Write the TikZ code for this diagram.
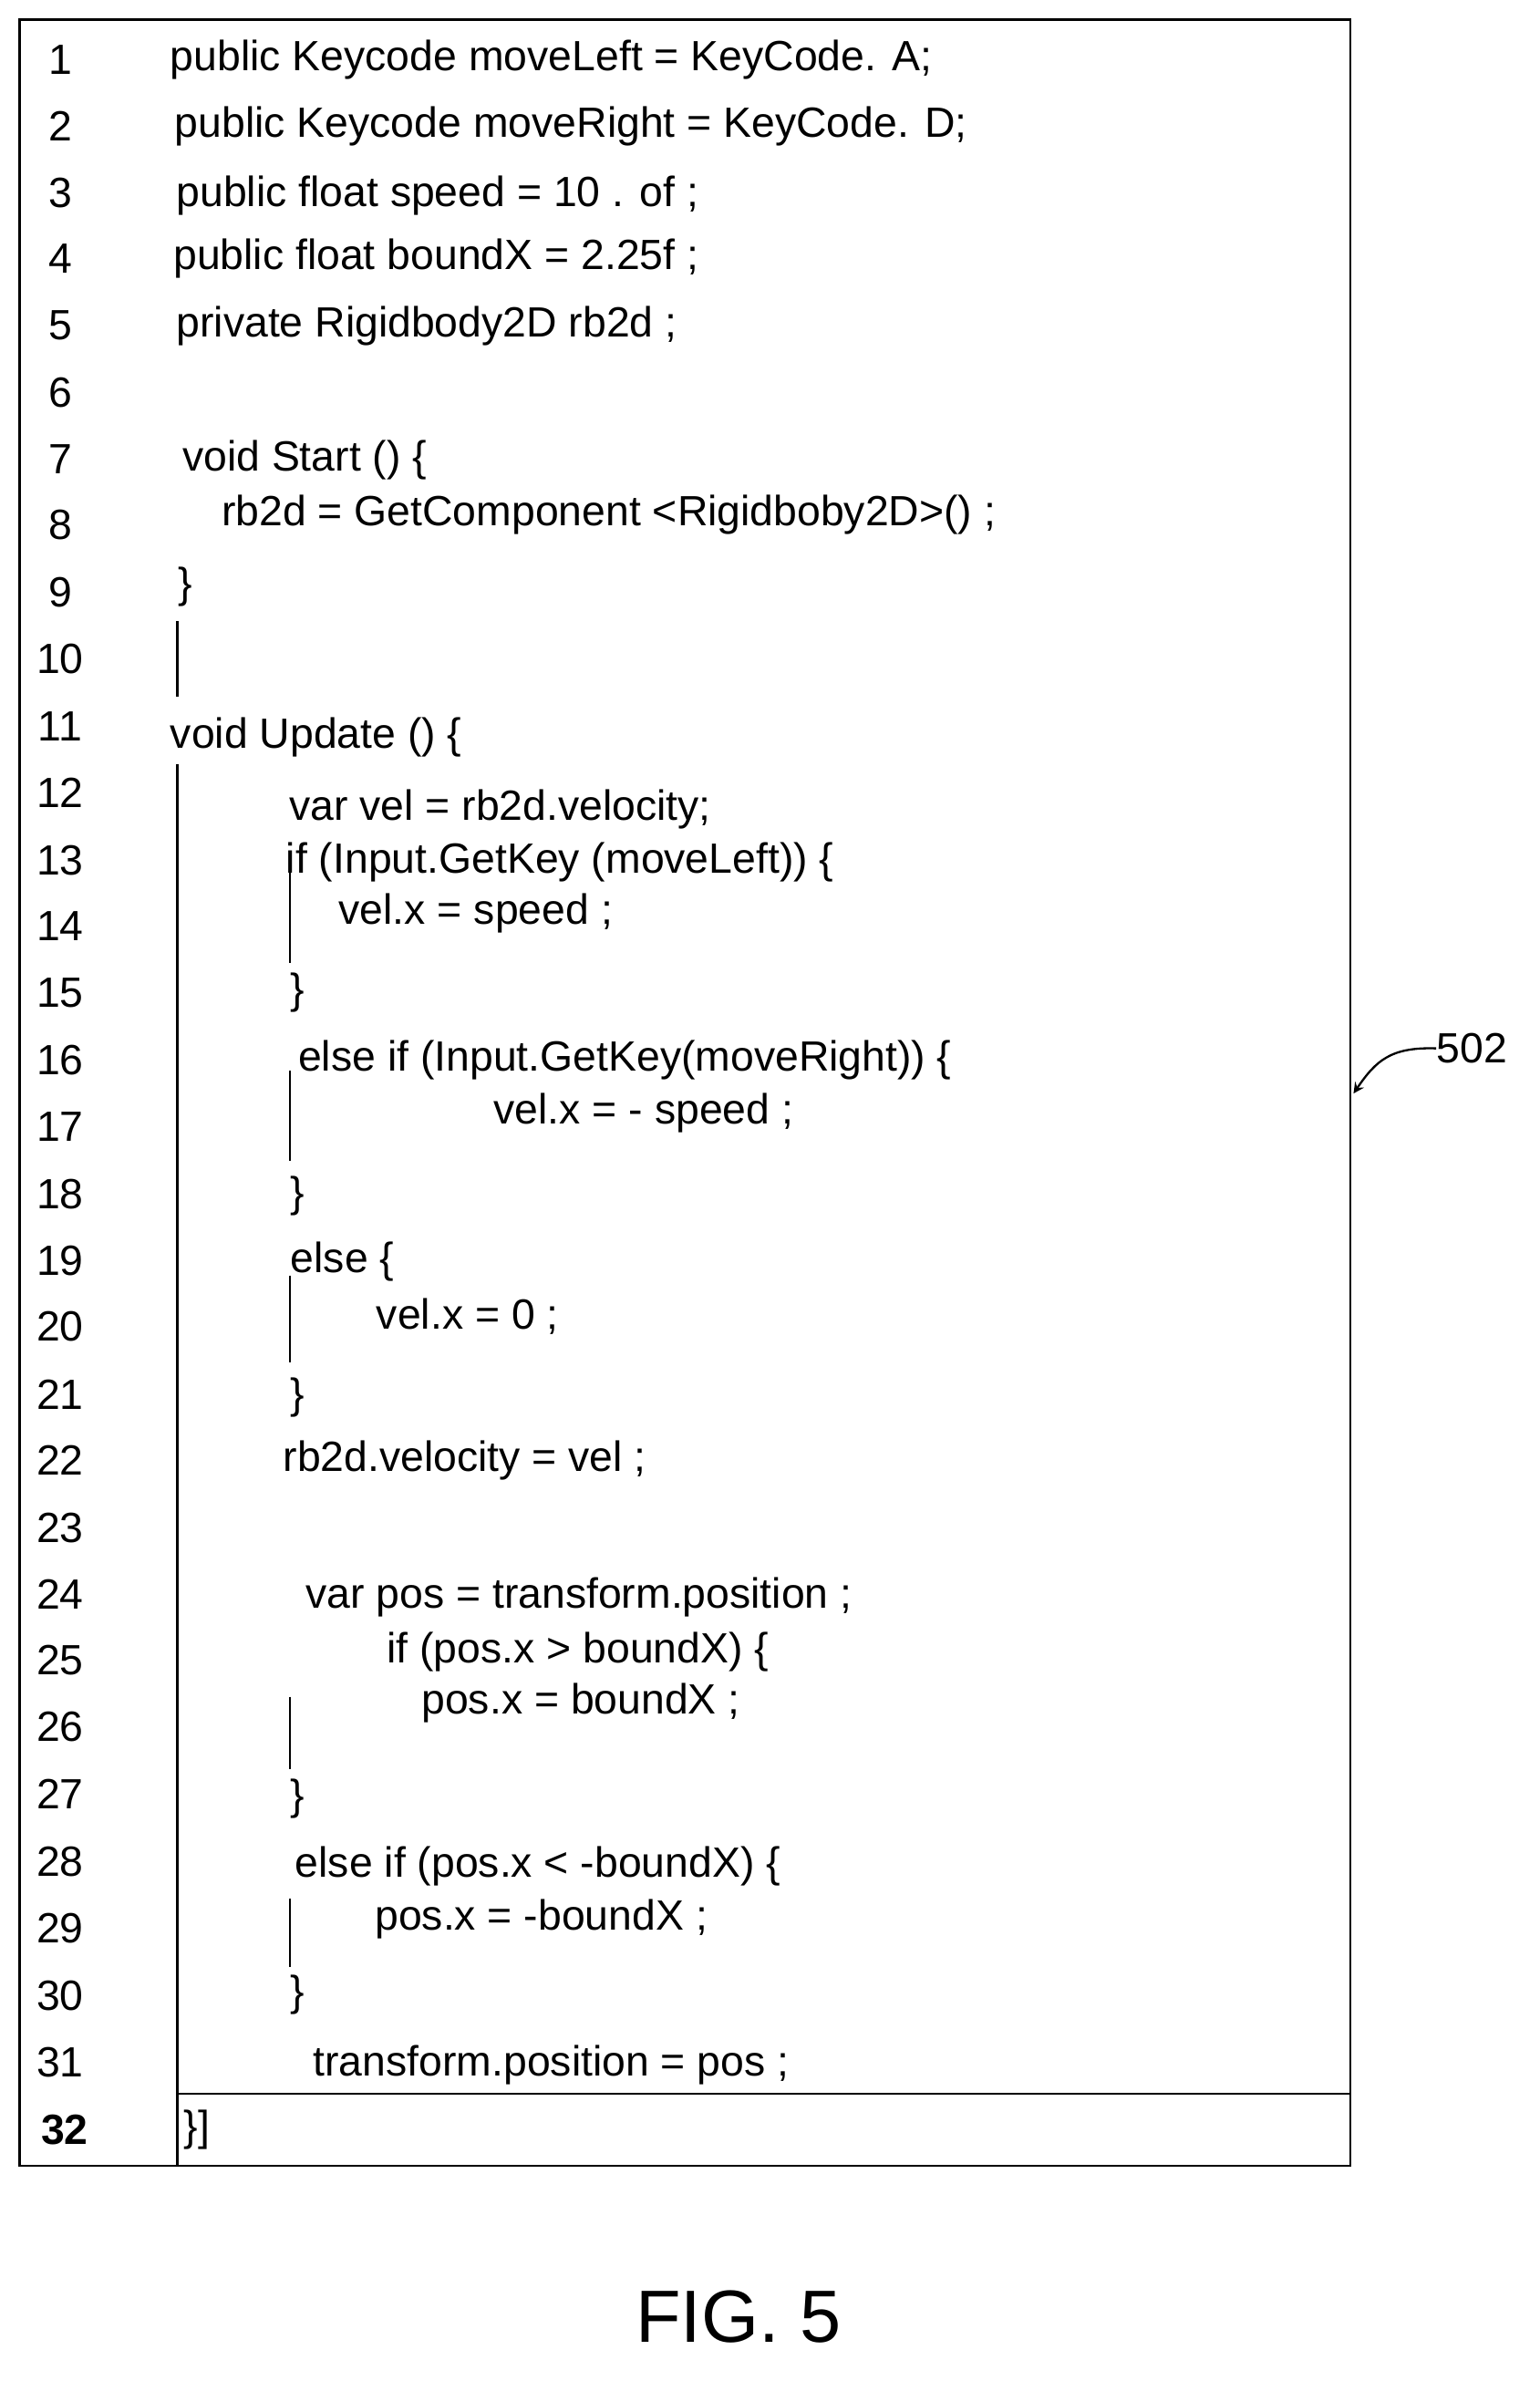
\documentclass[tikz,border=0pt]{standalone}
\usepackage{fontspec}
\setmainfont{Liberation Sans}
\begin{document}
\begin{tikzpicture}[x=0.02cm,y=-0.02cm,
  code/.style={anchor=west,inner sep=0pt,font=\fontsize{16}{18}\selectfont},
  num/.style={anchor=center,inner sep=0pt,font=\fontsize{16}{18}\selectfont},
  frame/.style={line width=0.9pt},
  bar/.style={line width=0.8pt}]
\useasboundingbox (0,0) rectangle (1024,1583);
\draw[frame] (13,13) rectangle (898,1440);
\draw[frame] (118,508) -- (118,1440);
\draw[frame] (118,1392) -- (898,1392);
\draw[bar] (118,413) -- (118,463);
\draw[bar] (193,580) -- (193,640);
\draw[bar] (193,712) -- (193,772);
\draw[bar] (193,848) -- (193,906);
\draw[bar] (193,1128) -- (193,1176);
\draw[bar] (193,1262) -- (193,1308);
\foreach \i/\y in {1/40,2/84,3/128,4/172,5/216,6/261,7/305,8/349,9/394,10/438,11/483,12/527,13/572,14/616,15/660,16/705,17/749,18/794,19/838,20/882,21/927,22/971,23/1016,24/1060,25/1104,26/1148,27/1193,28/1238,29/1282,30/1327,31/1371}
  \node[num] (n\i) at (40,\y) {\i};
\node[num,font=\fontsize{16}{18}\selectfont\bfseries] (n32) at (43,1416) {32};
\node[code] (c1) at (113,40) {public Keycode moveLeft = KeyCode. A;};
\node[code] (c2) at (116,84) {public Keycode moveRight = KeyCode. D;};
\node[code] (c3) at (117,130) {public float speed = 10 . of ;};
\node[code] (c4) at (115,172) {public float boundX = 2.25f ;};
\node[code] (c5) at (117,217) {private Rigidbody2D rb2d ;};
\node[code] (c7) at (121,306) {void Start () \{};
\node[code] (c8) at (147,342) {rb2d = GetComponent <Rigidboby2D>() ;};
\node[code] (c9) at (118,390) {\}};
\node[code] (c11) at (113,490) {void Update () \{};
\node[code] (c12) at (192,538) {var vel = rb2d.velocity;};
\node[code] (c13) at (190,573) {if (Input.GetKey (moveLeft)) \{};
\node[code] (c14) at (225,607) {vel.x = speed ;};
\node[code] (c15) at (193,660) {\}};
\node[code] (c16) at (198,705) {else if (Input.GetKey(moveRight)) \{};
\node[code] (c17) at (328,740) {vel.x = - speed ;};
\node[code] (c18) at (193,795) {\}};
\node[code] (c19) at (193,839) {else \{};
\node[code] (c20) at (250,875) {vel.x = 0 ;};
\node[code] (c21) at (193,929) {\}};
\node[code] (c22) at (188,971) {rb2d.velocity = vel ;};
\node[code] (c24) at (203,1062) {var pos = transform.position ;};
\node[code] (c25) at (257,1098) {if (pos.x > boundX) \{};
\node[code] (c26) at (280,1132) {pos.x = boundX ;};
\node[code] (c27) at (193,1196) {\}};
\node[code] (c28) at (196,1241) {else if (pos.x < -boundX) \{};
\node[code] (c29) at (249,1276) {pos.x = -boundX ;};
\node[code] (c30) at (193,1326) {\}};
\node[code] (c31) at (208,1373) {transform.position = pos ;};
\node[code] (c32) at (122,1416) {\}]};
\node[code] (l502) at (955,697) {502};
\coordinate (t502) at (900,727);
\draw[line width=0.8pt,-stealth] (l502.west) .. controls (925,696) and (915,705) .. (t502);
\node[inner sep=0pt,font=\fontsize{28}{32}\selectfont] (fig) at (491,1540) {FIG. 5};
\end{tikzpicture}
\end{document}
